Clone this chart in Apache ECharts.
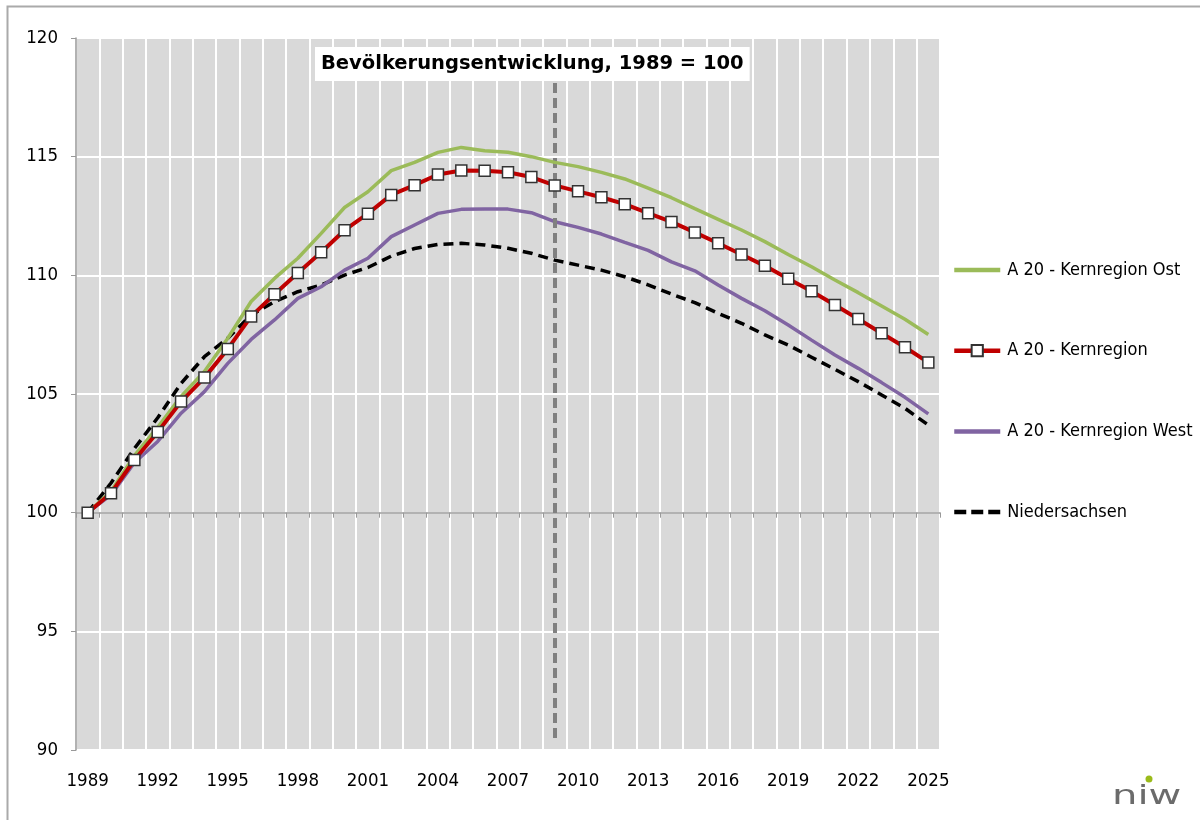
<!DOCTYPE html>
<html>
<head>
<meta charset="utf-8">
<script src="https://cdn.jsdelivr.net/npm/echarts@6/dist/echarts.min.js"></script>
<style>
html,body{margin:0;padding:0;background:#fff;}
#chart{width:1200px;height:820px;}
</style>
</head>
<body>
<div id="chart"></div>
<script>
const years = [];
for (let y = 1989; y <= 2025; y++) years.push(String(y));

const ost = [100, 100.9, 102.4, 103.6, 104.9, 105.95, 107.35, 108.9, 109.87, 110.72, 111.77, 112.86, 113.52,
  114.41, 114.76, 115.18, 115.39, 115.25, 115.19, 115.0, 114.76, 114.58, 114.34, 114.06, 113.67,
  113.27, 112.81, 112.36, 111.91, 111.42, 110.88, 110.36, 109.8, 109.27, 108.71, 108.15, 107.51];
const kern = [100, 100.82, 102.22, 103.4, 104.68, 105.69, 106.9, 108.27, 109.2, 110.1, 110.97, 111.9, 112.6,
  113.39, 113.8, 114.25, 114.42, 114.41, 114.34, 114.14, 113.79, 113.54, 113.29, 113.0, 112.62,
  112.25, 111.81, 111.35, 110.88, 110.4, 109.86, 109.33, 108.75, 108.16, 107.56, 106.97, 106.33];
const west = [100, 100.75, 102.1, 103.0, 104.19, 105.1, 106.29, 107.3, 108.12, 109.03, 109.52, 110.22, 110.72,
  111.63, 112.12, 112.61, 112.78, 112.79, 112.79, 112.64, 112.26, 112.02, 111.74, 111.39, 111.05,
  110.57, 110.19, 109.59, 109.03, 108.51, 107.91, 107.27, 106.64, 106.08, 105.48, 104.86, 104.16];
const nds = [100, 101.25, 102.7, 104.0, 105.45, 106.57, 107.35, 108.33, 108.89, 109.31, 109.59, 110.01, 110.33,
  110.81, 111.13, 111.3, 111.35, 111.28, 111.14, 110.93, 110.64, 110.43, 110.22, 109.94, 109.6,
  109.21, 108.85, 108.4, 107.98, 107.49, 107.06, 106.55, 106.04, 105.52, 104.96, 104.4, 103.69];

const seriesNames = ['A 20 - Kernregion Ost', 'A 20 - Kernregion', 'A 20 - Kernregion West', 'Niedersachsen'];
const titleText = 'Bevölkerungsentwicklung, 1989 = 100';
const markYear = '2009';
const markRange = [118.1, 90.4];

const FONT = "'DejaVu Sans Condensed', 'DejaVu Sans', sans-serif";
const FONT_WIDE = "'DejaVu Sans', sans-serif";

const chart = echarts.init(document.getElementById('chart'));
chart.setOption({
  animation: false,
  backgroundColor: '#fff',
  title: {
    text: titleText,
    left: 315, top: 47,
    padding: [7, 6, 7, 6],
    backgroundColor: '#fff',
    textStyle: { fontFamily: FONT_WIDE, fontWeight: 'bold', fontSize: 19.5, color: '#000' },
    z: 10
  },
  legend: {
    orient: 'vertical',
    left: 952, top: 261,
    padding: 0,
    itemWidth: 46, itemHeight: 14,
    itemGap: 62.7,
    lineStyle: { width: 4.5 },
    textStyle: { fontFamily: FONT, fontSize: 18, color: '#000', padding: [0, 0, 0, 2] },
    data: [
      { name: seriesNames[0], itemStyle: { opacity: 0 } },
      { name: seriesNames[1] },
      { name: seriesNames[2], itemStyle: { opacity: 0 } },
      { name: seriesNames[3], itemStyle: { opacity: 0 }, lineStyle: { width: 4.5, type: [12, 5] } }
    ]
  },
  grid: {
    left: 76, right: 260, top: 38, bottom: 70,
    show: true, backgroundColor: '#d9d9d9', borderWidth: 0
  },
  xAxis: [{
    type: 'category',
    data: years,
    boundaryGap: true,
    axisLine: { show: false },
    axisTick: { show: false },
    axisLabel: { interval: 2, fontFamily: FONT, fontSize: 18.5, color: '#000', margin: 22 },
    splitLine: { show: true, interval: 0, lineStyle: { color: '#fff', width: 2 } }
  }, {
    type: 'category',
    data: years,
    boundaryGap: true,
    position: 'bottom',
    offset: -237.3,
    axisLine: { show: true, lineStyle: { color: '#999', width: 1.5 } },
    axisTick: { show: true, interval: 0, length: 5, lineStyle: { color: '#999' } },
    axisLabel: { show: false },
    splitLine: { show: false }
  }],
  yAxis: {
    type: 'value',
    min: 90, max: 120, interval: 5,
    axisLine: { show: true, lineStyle: { color: '#999', width: 1.5 } },
    axisTick: { show: true, length: 5, lineStyle: { color: '#999' } },
    axisLabel: { fontFamily: FONT, fontSize: 18.5, color: '#000', margin: 18 },
    splitLine: { show: true, lineStyle: { color: '#fff', width: 2 } }
  },
  series: [
    {
      name: seriesNames[3], type: 'line', data: nds, z: 3,
      symbol: 'none', color: '#000',
      lineStyle: { color: '#000', width: 3.5, type: [10, 6] },
      markLine: {
        silent: true, symbol: 'none', label: { show: false },
        lineStyle: { color: '#808080', width: 4, type: [10, 5] },
        data: [[{ coord: [markYear, markRange[0]] }, { coord: [markYear, markRange[1]] }]]
      }
    },
    {
      name: seriesNames[2], type: 'line', data: west, z: 4,
      symbol: 'none', color: '#8064a2',
      lineStyle: { color: '#8064a2', width: 3.5 }
    },
    {
      name: seriesNames[0], type: 'line', data: ost, z: 5,
      symbol: 'none', color: '#9bbb59',
      lineStyle: { color: '#9bbb59', width: 3.5 }
    },
    {
      name: seriesNames[1], type: 'line', data: kern, z: 6,
      symbol: 'rect', symbolSize: 11, showAllSymbol: true, color: '#c00000',
      itemStyle: { color: '#fff', borderColor: '#333', borderWidth: 1.5 },
      lineStyle: { color: '#c00000', width: 4 }
    }
  ],
  graphic: [
    { type: 'rect', left: 5, top: 4, shape: { width: 1300, height: 900 }, style: { fill: 'none', stroke: '#aaa', lineWidth: 2 }, silent: true, z: 100 },
    { type: 'text', x: 1112, y: 783, scaleX: 1.65, style: { text: 'niw', fontFamily: FONT, fontSize: 27, fill: '#6b6b6b' }, z: 100 },
    { type: 'circle', shape: { cx: 1149, cy: 779, r: 3.5 }, style: { fill: '#9bbb1a' }, z: 100 }
  ]
});
</script>
</body>
</html>
